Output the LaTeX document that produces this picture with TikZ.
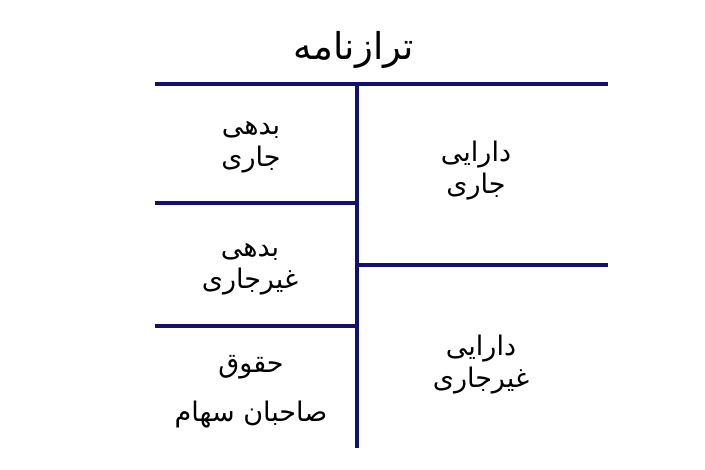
\documentclass[tikz,border=0pt]{standalone}
\usepackage{fontspec}
\newfontfamily\farsifont[Script=Arabic]{DejaVu Sans}
\TeXXeTstate=1
\usepackage{tikz}
\definecolor{ledger}{RGB}{18,18,110}
\def\fa#1{\beginR #1\endR}
\tikzset{
	tline/.style={line width=3.5pt, color=ledger},
	cell/.style={align=center, font=\farsifont\fontsize{27}{32}\selectfont, inner sep=0pt},
}

\begin{document}
\begin{tikzpicture}[x=1pt, y=-1pt]
			%%%%% START %%%%%
			\useasboundingbox (0, 0) rectangle (705, 470);
			
			\node[font=\farsifont\fontsize{37}{40}\selectfont, inner sep=0pt] (title) at (354, 50) {\fa{ترازنامه}};
			
			% the T
			\draw[tline] (155, 84) -- (608, 84);
			\draw[tline] (357, 84) -- (357, 448);
			
			% liabilities side
			\draw[tline] (155, 203) -- (357, 203);
			\draw[tline] (155, 326) -- (357, 326);
			
			% assets side
			\draw[tline] (357, 265) -- (608, 265);
			
			\node[cell] (liabcur) at (251, 147) {\fa{بدهی}\\\fa{جاری}};
			\node[cell] (liabnon) at (250, 269) {\fa{بدهی}\\\fa{غیرجاری}};
			\node[cell] (equity) at (251, 392) {\fa{حقوق}\\[17pt]\fa{صاحبان سهام}};
			
			\node[cell] (assetcur) at (476, 171) {\fa{دارایی}\\\fa{جاری}};
			\node[cell] (assetnon) at (481, 365) {\fa{دارایی}\\\fa{غیرجاری}};
			
			%%%%% END %%%%%
		\end{tikzpicture}
\end{document}
